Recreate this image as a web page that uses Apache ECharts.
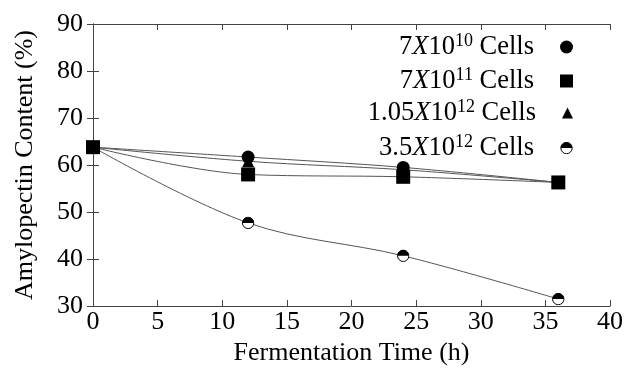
<!DOCTYPE html>
<html>
<head>
<meta charset="utf-8">
<script src="https://cdn.jsdelivr.net/npm/echarts@6/dist/echarts.min.js"></script>
<style>
  html, body { margin: 0; padding: 0; background: #fff; }
  #chart { width: 626px; height: 371px; }
</style>
</head>
<body>
<div id="chart"></div>
<script>
// fermentation time (h)
const timeH = [0, 12, 24, 36];
// amylopectin content (%) per inoculum size
const cells7e10 = [63.8, 61.7, 59.5, 56.3];
const cells7e11 = [63.8, 58.0, 57.5, 56.3];
const cells105e12 = [63.8, 60.8, 59.0, 56.3];
const cells35e12 = [63.8, 47.7, 40.7, 31.5];
const seriesNames = ['7X10^10 Cells', '7X10^11 Cells', '1.05X10^12 Cells', '3.5X10^12 Cells'];

const FONT = '"Liberation Serif", "DejaVu Serif", serif';

// half filled circle (top black, bottom white)
const halfSvg = "<svg xmlns='http://www.w3.org/2000/svg' width='40' height='40' viewBox='0 0 40 40'>" +
  "<circle cx='20' cy='20' r='17.5' fill='white' stroke='black' stroke-width='3'/>" +
  "<path d='M2.5 20 A17.5 17.5 0 0 1 37.5 20 Z' fill='black'/></svg>";
const halfCircle = 'image://data:image/svg+xml;base64,' + btoa(halfSvg);

const pairs = (ys) => timeH.map((t, i) => [t, ys[i]]);

let chart = echarts.init(document.getElementById('chart'));

const legendRich = {
  n: { fontSize: 26.5, fontFamily: FONT, color: '#000' },
  i: { fontSize: 26.5, fontFamily: FONT, fontStyle: 'italic', color: '#000' },
  s: { fontSize: 18, fontFamily: FONT, color: '#000', padding: [0, 0, 12, 0] },
  g: { width: 21 }
};
const legendFmt = (name) =>
  name.replace(/^([\d.]+)X10\^(\d+) Cells$/, '{n|$1}{i|X}{n|10}{s|$2}{n| Cells}{g|}');

const icons = ['circle', 'rect', 'triangle', halfCircle];
const rowTop = [32, 66, 98, 133];

const legends = seriesNames.map((nm, k) => ({
  data: [nm],
  orient: 'vertical',
  align: 'right',
  right: 53,
  top: rowTop[k],
  padding: 0,
  icon: icons[k],
  itemWidth: k === 2 ? 11 : 13,
  itemHeight: k === 2 ? 11 : 13,
  selectedMode: false,
  formatter: legendFmt,
  itemStyle: { color: '#000', borderWidth: 0 },
  lineStyle: { width: 0 },
  textStyle: { fontFamily: FONT, fontSize: 26.5, color: '#000', rich: legendRich }
}));

const axisLine = { show: true, lineStyle: { color: '#444', width: 1 } };
const tick = { show: true, inside: true, length: 6, lineStyle: { color: '#444' } };
const label = { color: '#000', fontFamily: FONT, fontSize: 26 };

const line = (name, ys, symbol, size, z) => ({
  name: name,
  type: 'line',
  data: pairs(ys),
  smooth: 0.35,
  symbol: symbol,
  symbolSize: size,
  showSymbol: true,
  z: z,
  itemStyle: { color: '#000', borderWidth: 0 },
  lineStyle: { color: '#555', width: 1 },
  emphasis: { disabled: true },
  animation: false
});

chart.setOption({
  backgroundColor: '#fff',
  animation: false,
  grid: { left: 93, right: 15, top: 24, bottom: 52 },
  legend: legends,
  xAxis: [
    {
      type: 'value', min: 0, max: 40, interval: 5,
      axisLine: axisLine, axisTick: tick, splitLine: { show: false },
      axisLabel: Object.assign({ margin: 3 }, label),
      name: 'Fermentation Time (h)', nameLocation: 'middle', nameGap: 27,
      nameTextStyle: { color: '#000', fontFamily: FONT, fontSize: 26 }
    },
    {
      type: 'value', position: 'top', min: 0, max: 40, interval: 5,
      axisLine: axisLine, axisTick: tick, splitLine: { show: false },
      axisLabel: { show: false }
    }
  ],
  yAxis: [
    {
      type: 'value', min: 30, max: 90, interval: 10,
      axisLine: axisLine, axisTick: tick, splitLine: { show: false },
      axisLabel: Object.assign({ margin: 10 }, label),
      name: 'Amylopectin Content (%)', nameLocation: 'middle', nameGap: 55,
      nameTextStyle: { color: '#000', fontFamily: FONT, fontSize: 26 }
    },
    {
      type: 'value', position: 'right', min: 30, max: 90, interval: 10,
      axisLine: axisLine, axisTick: tick, splitLine: { show: false },
      axisLabel: { show: false }
    }
  ],
  series: [
    line(seriesNames[3], cells35e12, halfCircle, 13, 2),
    line(seriesNames[2], cells105e12, 'triangle', 12, 3),
    line(seriesNames[0], cells7e10, 'circle', 13, 4),
    line(seriesNames[1], cells7e11, 'rect', 14, 5)
  ]
});
</script>
</body>
</html>
